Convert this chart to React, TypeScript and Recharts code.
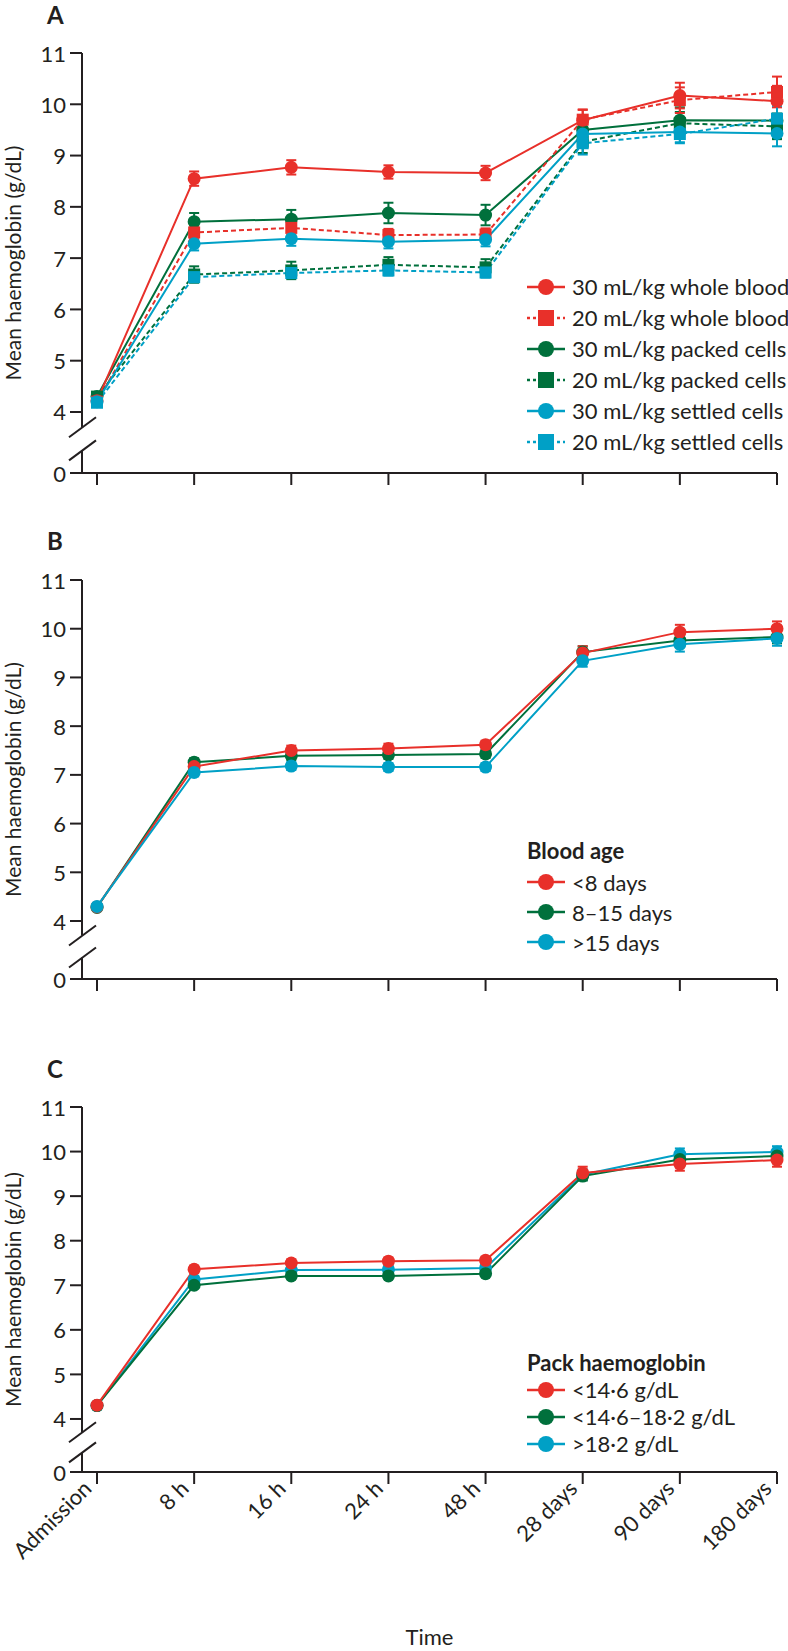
import React from 'react'
import { LineChart, Line, XAxis, YAxis, ErrorBar, Legend } from 'recharts'

const times = ['Admission', '8 h', '16 h', '24 h', '48 h', '28 days', '90 days', '180 days']

// A: volume and type of transfusion
const wholeBlood30 = [4.22, 8.55, 8.77, 8.68, 8.66, 9.69, 10.17, 10.06]
const wholeBlood30Err = [0.08, 0.14, 0.14, 0.13, 0.14, 0.2, 0.25, 0.3]
const wholeBlood20 = [4.2, 7.5, 7.59, 7.45, 7.46, 9.7, 10.08, 10.24]
const wholeBlood20Err = [0.08, 0.13, 0.13, 0.12, 0.12, 0.2, 0.25, 0.3]
const packed30 = [4.3, 7.71, 7.76, 7.88, 7.84, 9.5, 9.69, 9.68]
const packed30Err = [0.08, 0.17, 0.18, 0.2, 0.2, 0.22, 0.25, 0.35]
const packed20 = [4.3, 6.68, 6.76, 6.87, 6.82, 9.27, 9.63, 9.57]
const packed20Err = [0.08, 0.16, 0.17, 0.15, 0.16, 0.22, 0.22, 0.25]
const settled30 = [4.2, 7.28, 7.38, 7.32, 7.36, 9.42, 9.46, 9.43]
const settled30Err = [0.08, 0.13, 0.14, 0.13, 0.13, 0.2, 0.2, 0.25]
const settled20 = [4.18, 6.63, 6.71, 6.76, 6.72, 9.24, 9.42, 9.72]
const settled20Err = [0.08, 0.1, 0.1, 0.1, 0.1, 0.22, 0.18, 0.25]

// B: blood age
const ageUnder8 = [4.29, 7.17, 7.5, 7.54, 7.62, 9.5, 9.93, 10.0]
const ageUnder8Err = [0.05, 0.1, 0.1, 0.1, 0.08, 0.14, 0.15, 0.15]
const age8to15 = [4.28, 7.26, 7.39, 7.41, 7.43, 9.52, 9.76, 9.83]
const age8to15Err = [0.05, 0.08, 0.08, 0.08, 0.08, 0.12, 0.13, 0.13]
const ageOver15 = [4.3, 7.05, 7.18, 7.16, 7.16, 9.34, 9.68, 9.8]
const ageOver15Err = [0.05, 0.08, 0.08, 0.08, 0.08, 0.12, 0.15, 0.15]

// C: pack haemoglobin
const packLow = [4.31, 7.36, 7.5, 7.54, 7.56, 9.52, 9.72, 9.81]
const packLowErr = [0.05, 0.08, 0.08, 0.08, 0.08, 0.14, 0.15, 0.15]
const packMid = [4.3, 7.0, 7.21, 7.21, 7.26, 9.45, 9.82, 9.9]
const packMidErr = [0.05, 0.06, 0.06, 0.06, 0.06, 0.1, 0.12, 0.12]
const packHigh = [4.3, 7.13, 7.34, 7.35, 7.39, 9.48, 9.94, 9.99]
const packHighErr = [0.05, 0.08, 0.08, 0.08, 0.08, 0.12, 0.13, 0.13]

const RED = '#e8302a'
const GREEN = '#00703c'
const BLUE = '#00a0c6'
const INK = '#231f20'
const FONT = 'Lato, "Noto Sans", sans-serif'

const BREAK = 2.81 // the "0" tick sits here, below the axis break
const yTicks = [BREAK, 4, 5, 6, 7, 8, 9, 10, 11]
const AXIS_X = 82
const axisStyle = { stroke: INK, strokeWidth: 2 }

type Series = {
  key: string
  name: string
  color: string
  dashed?: boolean
  square?: boolean
  values: number[]
  errors: number[]
}

const seriesA: Series[] = [
  { key: 'wb30', name: '30 mL/kg whole blood', color: RED, values: wholeBlood30, errors: wholeBlood30Err },
  { key: 'wb20', name: '20 mL/kg whole blood', color: RED, dashed: true, square: true, values: wholeBlood20, errors: wholeBlood20Err },
  { key: 'pc30', name: '30 mL/kg packed cells', color: GREEN, values: packed30, errors: packed30Err },
  { key: 'pc20', name: '20 mL/kg packed cells', color: GREEN, dashed: true, square: true, values: packed20, errors: packed20Err },
  { key: 'sc30', name: '30 mL/kg settled cells', color: BLUE, values: settled30, errors: settled30Err },
  { key: 'sc20', name: '20 mL/kg settled cells', color: BLUE, dashed: true, square: true, values: settled20, errors: settled20Err },
]

const seriesB: Series[] = [
  { key: 'a1', name: '<8 days', color: RED, values: ageUnder8, errors: ageUnder8Err },
  { key: 'a2', name: '8–15 days', color: GREEN, values: age8to15, errors: age8to15Err },
  { key: 'a3', name: '>15 days', color: BLUE, values: ageOver15, errors: ageOver15Err },
]

const seriesC: Series[] = [
  { key: 'p1', name: '<14·6 g/dL', color: RED, values: packLow, errors: packLowErr },
  { key: 'p2', name: '<14·6–18·2 g/dL', color: GREEN, values: packMid, errors: packMidErr },
  { key: 'p3', name: '>18·2 g/dL', color: BLUE, values: packHigh, errors: packHighErr },
]

function rowsFor(series: Series[]) {
  return times.map((time, i) => {
    const row: Record<string, string | number> = { time }
    for (const s of series) {
      row[s.key] = s.values[i]
      row[s.key + 'Err'] = s.errors[i]
    }
    return row
  })
}

const makeYTick = (unitPx: number) => (p: any) => {
  const { x, y, payload } = p
  const isZero = payload.value < 4
  const gap = (4 - BREAK) * unitPx
  const s1 = y - 0.75 * gap
  const s2 = y - 0.37 * gap
  return (
    <g>
      {isZero && (
        <g>
          <rect x={AXIS_X - 3} y={s1} width={6} height={s2 - s1} fill="#fff" />
          <line x1={AXIS_X - 13} y1={s1 + 10} x2={AXIS_X + 14} y2={s1 - 10} stroke={INK} strokeWidth={2} />
          <line x1={AXIS_X - 13} y1={s2 + 10} x2={AXIS_X + 14} y2={s2 - 10} stroke={INK} strokeWidth={2} />
        </g>
      )}
      <text x={x} y={y} textAnchor="end" dominantBaseline="central" fontSize={22} fill={INK} fontFamily={FONT}>
        {isZero ? 0 : payload.value}
      </text>
    </g>
  )
}

const XTick = (p: any) => {
  const { x, y, payload } = p
  const ax = x - 4
  const ay = y + 4
  return (
    <text x={ax} y={ay} transform={`rotate(-45 ${ax} ${ay})`} textAnchor="end" fontSize={22} fill={INK} fontFamily={FONT}>
      {payload.value}
    </text>
  )
}

const YLabel = (p: any) => {
  const vb = p.viewBox
  const cy = vb.y + vb.height / 2
  return (
    <text x={12} y={cy} transform={`rotate(-90 12 ${cy})`} textAnchor="middle" dominantBaseline="central" fontSize={21} fill={INK} fontFamily={FONT}>
      Mean haemoglobin (g/dL)
    </text>
  )
}

const TimeLabel = (p: any) => {
  const vb = p.viewBox
  return (
    <text x={vb.x + vb.width / 2} y={vb.y + vb.height - 2} textAnchor="middle" fontSize={22} fill={INK} fontFamily={FONT}>
      Time
    </text>
  )
}

function LegendBlock({ title, items, rowH, titleH }: { title?: string; items: Series[]; rowH: number; titleH: number }) {
  return (
    <div style={{ fontFamily: FONT, fontSize: 22, color: INK }}>
      {title && <div style={{ height: titleH, lineHeight: titleH + 'px', fontWeight: 700 }}>{title}</div>}
      {items.map((s) => (
        <div key={s.key} style={{ display: 'flex', alignItems: 'center', height: rowH }}>
          <svg width={38} height={20} style={{ flex: 'none' }}>
            <line x1={0} x2={38} y1={10} y2={10} stroke={s.color} strokeWidth={2.5} strokeDasharray={s.dashed ? '3 3' : undefined} />
            {s.square ? <rect x={11} y={2} width={16} height={16} fill={s.color} /> : <circle cx={19} cy={10} r={8} fill={s.color} />}
          </svg>
          <span style={{ marginLeft: 7, whiteSpace: 'nowrap' }}>{s.name}</span>
        </div>
      ))}
    </div>
  )
}

type PanelProps = {
  top: number
  height: number
  marginTop: number
  marginBottom: number
  xHeight: number
  series: Series[]
  drawOrder: string[]
  withTime?: boolean
  legendTitle?: string
  legendTop: number
  rowH: number
  titleH: number
}

function Panel(props: PanelProps) {
  const { top, height, marginTop, marginBottom, xHeight, series, drawOrder, withTime } = props
  const plotH = height - marginTop - marginBottom - xHeight
  const unitPx = plotH / (11 - BREAK)
  const rows = rowsFor(series)
  const ordered = drawOrder.map((k) => series.find((s) => s.key === k) as Series)
  return (
    <div style={{ position: 'absolute', left: 0, top }}>
      <LineChart width={788} height={height} data={rows} margin={{ top: marginTop, right: 11, bottom: marginBottom, left: 0 }}>
        <XAxis
          dataKey="time"
          scale="point"
          padding={{ left: 15, right: 0 }}
          height={xHeight}
          tickSize={12}
          interval={0}
          axisLine={axisStyle}
          tickLine={axisStyle}
          tick={withTime ? XTick : () => <g />}
          label={withTime ? <TimeLabel /> : undefined}
        />
        <YAxis
          type="number"
          domain={[BREAK, 11]}
          ticks={yTicks}
          interval={0}
          allowDataOverflow
          width={AXIS_X}
          tickSize={12}
          tickMargin={4}
          axisLine={axisStyle}
          tickLine={axisStyle}
          tick={makeYTick(unitPx)}
          label={<YLabel />}
        />
        {ordered.map((s) => (
          <Line
            key={s.key}
            type="linear"
            dataKey={s.key}
            stroke={s.color}
            strokeWidth={2}
            strokeDasharray={s.dashed ? '5 3' : undefined}
            activeDot={false}
            isAnimationActive={false}
            dot={
              s.square
                ? (d: any) => <rect key={`${s.key}-${d.index}`} x={d.cx - 6} y={d.cy - 6} width={12} height={12} fill={s.color} />
                : { r: 6.5, fill: s.color, stroke: 'none', strokeDasharray: undefined }
            }
          >
            <ErrorBar dataKey={s.key + 'Err'} width={5} strokeWidth={2} stroke={s.color} />
          </Line>
        ))}
        <Legend
          layout="vertical"
          align="center"
          verticalAlign="middle"
          wrapperStyle={{ left: 527, top: props.legendTop, width: 261 }}
          content={() => <LegendBlock title={props.legendTitle} items={series} rowH={props.rowH} titleH={props.titleH} />}
        />
      </LineChart>
    </div>
  )
}

const letterStyle: React.CSSProperties = {
  position: 'absolute',
  left: 47,
  fontFamily: FONT,
  fontWeight: 700,
  fontSize: 24,
  lineHeight: '24px',
  color: INK,
}

export default function App() {
  return (
    <div style={{ position: 'absolute', left: 0, top: 0, width: 788, height: 1651, background: '#fff', overflow: 'hidden' }}>
      <div style={{ ...letterStyle, top: 3 }}>A</div>
      <div style={{ ...letterStyle, top: 529 }}>B</div>
      <div style={{ ...letterStyle, top: 1057 }}>C</div>
      <Panel
        top={0}
        height={500}
        marginTop={53}
        marginBottom={7}
        xHeight={20}
        series={seriesA}
        drawOrder={['pc30', 'pc20', 'wb30', 'wb20', 'sc30', 'sc20']}
        legendTop={271}
        rowH={31}
        titleH={0}
      />
      <Panel
        top={500}
        height={510}
        marginTop={80}
        marginBottom={11}
        xHeight={20}
        series={seriesB}
        drawOrder={['a2', 'a1', 'a3']}
        legendTitle="Blood age"
        legendTop={334}
        rowH={30}
        titleH={33}
      />
      <Panel
        top={1010}
        height={641}
        marginTop={97}
        marginBottom={4}
        xHeight={175}
        series={seriesC}
        drawOrder={['p3', 'p2', 'p1']}
        withTime
        legendTitle="Pack haemoglobin"
        legendTop={339}
        rowH={27}
        titleH={27}
      />
    </div>
  )
}
